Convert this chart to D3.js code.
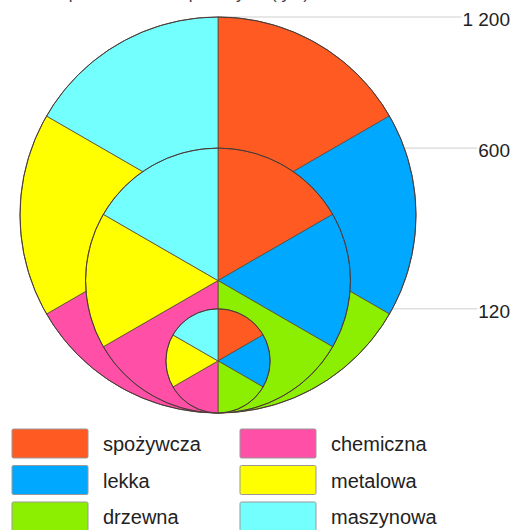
<!DOCTYPE html>
<html>
<head>
<meta charset="utf-8">
<script src="https://cdn.jsdelivr.net/npm/d3@7"></script>
<style>
  html, body { margin: 0; padding: 0; background: #fff; }
  svg { display: block; font-family: Arial, "Liberation Sans", Helvetica, sans-serif; }
</style>
</head>
<body>
<svg id="chart" width="517" height="530"></svg>
<script>
// ---- data ----
const categories = ["spożywcza", "lekka", "drzewna", "chemiczna", "metalowa", "maszynowa"];
const colors = ["#FF5A22", "#00A9FF", "#8CEE00", "#FF4FA6", "#FFFF00", "#74FFFF"];
const totals = [1200, 600, 120];
const totalLabels = ["1 200", "600", "120"];
// share of each industry in every circle (equal sectors as drawn)
const shares1200 = [1, 1, 1, 1, 1, 1];
const shares600 = [1, 1, 1, 1, 1, 1];
const shares120 = [1, 1, 1, 1, 1, 1];
const sharesList = [shares1200, shares600, shares120];
const titleText = "Liczba pracowników w przemyśle (tys.)";

// ---- layout ----
const svg = d3.select("#chart");
const cx = 218, bottomY = 413;
const rScale = d3.scalePow().exponent(0.58).domain([0, 1200]).range([0, 198]);
const color = d3.scaleOrdinal().domain(categories).range(colors);
const pie = d3.pie().sort(null).value(d => d.v);

svg.append("text")
  .attr("x", 15).attr("y", -1)
  .attr("font-size", 17).attr("fill", "#444")
  .text(titleText);

// leader lines + labels
totals.forEach((t, i) => {
  const r = rScale(t);
  const topY = bottomY - 2 * r;
  const lbl = svg.append("text")
    .attr("x", 510).attr("y", topY + 9)
    .attr("text-anchor", "end")
    .attr("font-size", 19).attr("fill", "#222")
    .text(totalLabels[i]);
  const w = lbl.node().getComputedTextLength();
  svg.insert("line", "text")
    .attr("x1", cx).attr("x2", 510 - w - 1)
    .attr("y1", topY).attr("y2", topY)
    .attr("stroke", "#cfcfcf").attr("stroke-width", 1);
});

// circles
totals.forEach((t, i) => {
  const r = rScale(t);
  const cy = bottomY - r;
  const data = categories.map((c, j) => ({ c, v: sharesList[i][j] }));
  const arc = d3.arc().innerRadius(0).outerRadius(r);
  const g = svg.append("g").attr("transform", `translate(${cx},${cy})`);
  g.selectAll("path").data(pie(data)).join("path")
    .attr("d", arc)
    .attr("fill", d => color(d.data.c))
    .attr("stroke", "#5a4a3a").attr("stroke-width", 0.8).attr("stroke-linejoin", "round");
  g.append("circle").attr("r", r).attr("fill", "none")
    .attr("stroke", "#4a3a3a").attr("stroke-width", 1);
});

// legend
const legend = svg.append("g");
categories.forEach((c, i) => {
  const col = Math.floor(i / 3), row = i % 3;
  const x = 12 + col * 228, y = 429 + row * 36.5;
  legend.append("rect")
    .attr("x", x).attr("y", y).attr("width", 76).attr("height", 29)
    .attr("rx", 1.5)
    .attr("fill", color(c)).attr("stroke", "#999").attr("stroke-width", 1);
  legend.append("text")
    .attr("x", x + 91).attr("y", y + 22)
    .attr("font-size", 20).attr("fill", "#222")
    .text(c);
});
</script>
</body>
</html>
